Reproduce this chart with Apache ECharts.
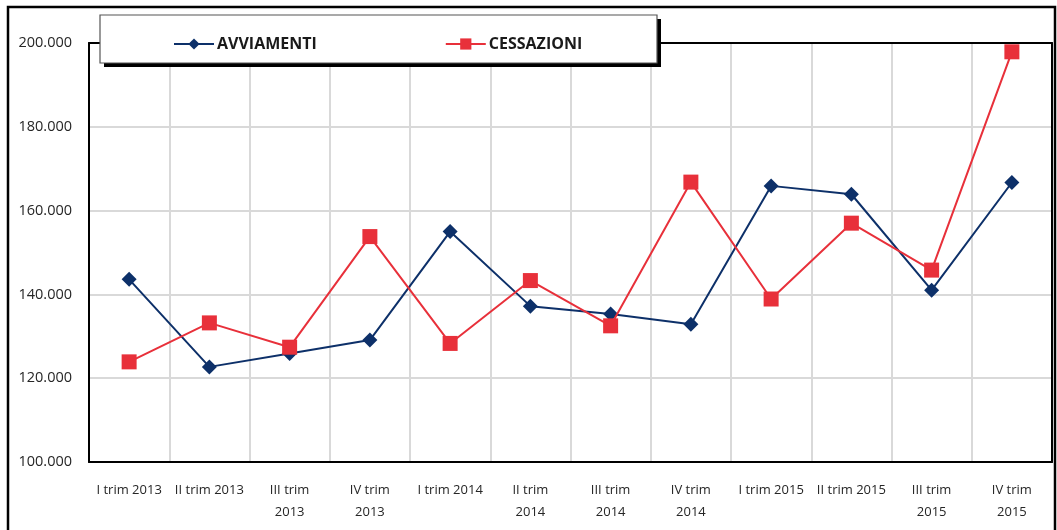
<!DOCTYPE html>
<html>
<head>
<meta charset="utf-8">
<script src="https://cdn.jsdelivr.net/npm/echarts@6/dist/echarts.min.js"></script>
<style>
html,body{margin:0;padding:0;background:#fff;}
#chart{width:1057px;height:530px;}
</style>
</head>
<body>
<div id="chart"></div>
<script>
const categories = ["I trim 2013","II trim 2013","III trim\n2013","IV trim\n2013","I trim 2014","II trim\n2014","III trim\n2014","IV trim\n2014","I trim 2015","II trim 2015","III trim\n2015","IV trim\n2015"];
const avviamenti = [143600,122700,125900,129100,155000,137200,135300,132900,165900,163900,141000,166700];
const cessazioni = [123900,133200,127400,153800,128300,143300,132500,166800,138900,157000,145800,197900];
const seriesNames = ["AVVIAMENTI","CESSAZIONI"];
const yTicks = {min:100000, max:200000, interval:20000};

const FONT = "'Open Sans', 'DejaVu Sans', sans-serif";
const navy = '#0d3069';
const red = '#e8303a';
const border = {show:true, lineStyle:{color:'#000', width:2}};

const chart = echarts.init(document.getElementById('chart'), null, {renderer:'canvas'});
chart.setOption({
  animation:false,
  backgroundColor:'#fff',
  grid:{left:89, top:43, right:5, bottom:68},
  graphic:[
    {type:'rect', z:0, silent:true, shape:{x:8, y:7, width:1047, height:540}, style:{fill:null, stroke:'#000', lineWidth:2.5}},
    {type:'rect', z:49, silent:true, shape:{x:104, y:19, width:557, height:48}, style:{fill:'#000'}},
    {type:'rect', z:50, silent:true, shape:{x:100, y:15, width:557, height:48}, style:{fill:'#fff', stroke:'#555', lineWidth:1.2}}
  ],
  legend:{
    z:60, left:168, top:31, itemWidth:40, itemHeight:14, itemGap:128,
    textStyle:{fontFamily:FONT, fontSize:16, fontWeight:'bold', color:'#1a1a1a', padding:[0,0,0,-2]},
    data:seriesNames
  },
  xAxis:[{
    type:'category', data:categories, boundaryGap:true,
    axisLine:border,
    axisTick:{show:false},
    axisLabel:{interval:0, fontFamily:FONT, fontSize:13, color:'#262626', lineHeight:22, margin:17},
    splitLine:{show:true, interval:0, lineStyle:{color:'#d9d9d9', width:2}}
  },{
    type:'category', data:categories, position:'top', boundaryGap:true,
    axisLine:border, axisTick:{show:false}, axisLabel:{show:false}, splitLine:{show:false}
  }],
  yAxis:[{
    type:'value', min:yTicks.min, max:yTicks.max, interval:yTicks.interval,
    axisLine:border,
    axisTick:{show:false},
    axisLabel:{fontFamily:FONT, fontSize:14.5, color:'#262626', margin:17,
      formatter:v=>String(v).replace(/\B(?=(\d{3})+(?!\d))/g,'.')},
    splitLine:{show:true, lineStyle:{color:'#d9d9d9', width:2}}
  },{
    type:'value', min:yTicks.min, max:yTicks.max, interval:yTicks.interval, position:'right',
    axisLine:border, axisTick:{show:false}, axisLabel:{show:false}, splitLine:{show:false}
  }],
  series:[
    {name:seriesNames[0], type:'line', data:avviamenti, symbol:'diamond', symbolSize:15,
     lineStyle:{color:navy, width:2}, itemStyle:{color:navy}, z:3},
    {name:seriesNames[1], type:'line', data:cessazioni, symbol:'rect', symbolSize:15,
     lineStyle:{color:red, width:2}, itemStyle:{color:red}, z:4}
  ]
});
</script>
</body>
</html>
